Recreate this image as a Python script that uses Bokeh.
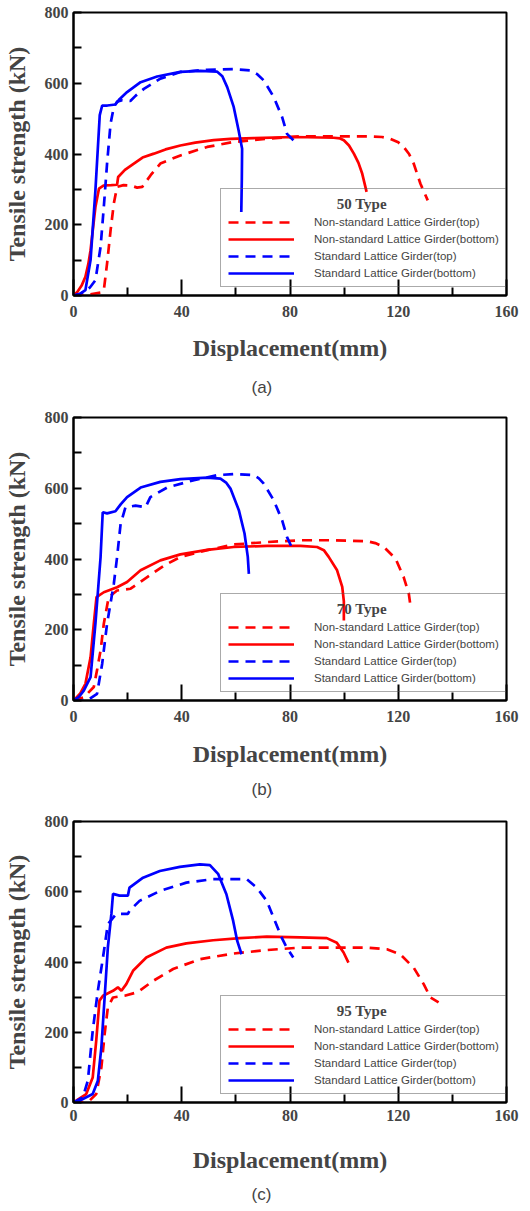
from bokeh.plotting import figure
from bokeh.layouts import column
from bokeh.models import Range1d, FixedTicker, Legend, LegendItem, Title
from bokeh.embed import file_html
from bokeh.resources import INLINE

# ---------------- data ----------------
labels = ["Non-standard Lattice Girder(top)", "Non-standard Lattice Girder(bottom)",
          "Standard Lattice Girder(top)", "Standard Lattice Girder(bottom)"]
x_ticks = [0, 40, 80, 120, 160]
x_minor = [20, 60, 100, 140]
y_ticks = [0, 200, 400, 600, 800]
y_minor = [100, 300, 500, 700]

# (a) 50 Type
a_ns_top_x = [0, 5, 10, 11.2, 12.4, 13.7, 14.9, 16.1, 18.5, 21.1, 23.5, 25.4, 28.5, 32.1, 39.5, 49.4, 59.2, 71.6, 83.9, 96.2, 108.5, 114, 117.1, 120, 122, 124, 125.7, 128.2, 130.9]
a_ns_top_y = [0, 2, 8, 15, 90, 184, 260, 307, 312, 311, 305, 307, 340, 373, 396, 420, 434, 443, 450, 450, 450, 448, 443, 433, 420, 400, 373, 316, 269]
a_ns_bot_x = [0, 1.4, 3, 4.4, 5.5, 6.3, 7.2, 8.1, 9.4, 11.2, 14, 16.1, 16.5, 19, 22.3, 25.5, 29.7, 34, 39.5, 45, 51.8, 58, 66.6, 81.4, 96.2, 98.5, 99.9, 101.8, 103.6, 105.3, 106.7, 108.3]
a_ns_bot_y = [0, 10, 28, 53, 90, 128, 190, 250, 302, 311, 312, 313, 335, 355, 373, 390, 401, 413, 424, 432, 439, 443, 445, 448, 446, 444, 439, 424, 401, 375, 344, 293]
a_st_top_x = [0, 2, 3.8, 6, 8.1, 10, 11.2, 12.4, 13.7, 14.9, 16.1, 18, 21, 23, 26, 32.1, 39.5, 49.4, 59.2, 65.4, 68, 70.3, 74, 77.1, 78.9, 82.6]
a_st_top_y = [0, 3, 10, 22, 43, 137, 250, 373, 486, 533, 548, 552, 550, 565, 584, 613, 632, 638, 640, 636, 625, 608, 561, 504, 457, 429]
a_st_bot_x = [0, 2.5, 4.4, 6.3, 8.1, 9.7, 10.6, 12.5, 15.5, 17, 19.8, 24.8, 30.9, 39.5, 46.9, 53, 55, 56.8, 59.2, 61, 62.3, 62.2, 62]
a_st_bot_y = [0, 5, 15, 100, 297, 510, 537, 537, 540, 555, 575, 603, 619, 632, 635, 633, 620, 589, 533, 467, 415, 330, 236]

# (b) 70 Type
b_ns_top_x = [0, 3.8, 7.5, 8.8, 10, 11.2, 13, 16.1, 21.1, 25.4, 33.4, 39.5, 49.4, 59.2, 71.6, 83.9, 96.2, 108.5, 111.5, 114.7, 119, 122, 123.9, 124.7]
b_ns_top_y = [0, 9, 38, 90, 141, 217, 292, 311, 316, 339, 381, 406, 425, 441, 448, 453, 453, 450, 445, 434, 401, 349, 302, 257]
b_ns_bot_x = [0, 0.7, 2.5, 4.4, 6.3, 7.5, 8.5, 11.2, 16.1, 19.8, 24.8, 32.1, 39.5, 49.4, 59.2, 71.6, 83.9, 90, 92.5, 94.3, 97.4, 99.3, 99.9, 99.9]
b_ns_bot_y = [0, 5, 20, 47, 122, 217, 292, 306, 320, 335, 368, 396, 413, 426, 434, 437, 437, 434, 425, 406, 368, 321, 280, 226]
b_st_top_x = [0, 3, 5, 8.7, 10.6, 12.4, 14.9, 16.1, 17.4, 19.2, 22.9, 26.6, 28.4, 34.6, 44.5, 53.1, 59.2, 66.6, 68.5, 70.3, 74, 77.1, 78.9, 81.4]
b_st_top_y = [0, 0, 0, 19, 104, 217, 330, 405, 499, 546, 551, 546, 575, 602, 623, 637, 640, 637, 628, 613, 566, 509, 462, 420]
b_st_bot_x = [0, 2, 3.8, 6.3, 8.1, 10, 10.8, 12.4, 15.5, 17.5, 19.8, 24.8, 32.1, 39.5, 49.4, 54.3, 56.5, 58, 61.1, 63.2, 64.4, 64.8]
b_st_bot_y = [0, 10, 28, 66, 217, 405, 532, 529, 535, 555, 575, 602, 618, 626, 630, 627, 615, 599, 538, 472, 406, 358]

# (c) 95 Type
c_ns_top_x = [0, 3, 5.9, 8.4, 10.3, 11.5, 12.7, 14.6, 18.9, 23.2, 24.4, 29.4, 36.8, 46.7, 59, 71.4, 83.7, 96, 108.4, 115.8, 120.7, 125.7, 129.4, 131.9, 134.9]
c_ns_top_y = [0, 0, 5, 24, 100, 195, 271, 299, 304, 313, 318, 346, 380, 408, 424, 434, 441, 441, 441, 436, 422, 384, 337, 299, 285]
c_ns_bot_x = [0, 1, 4.7, 7.1, 8.4, 9.6, 10.9, 14.6, 16.4, 17.7, 19.5, 22, 26.9, 34.3, 41.7, 51.6, 61.5, 71.4, 83.7, 93.6, 97.3, 99.8, 101.6]
c_ns_bot_y = [0, 5, 24, 71, 176, 290, 304, 318, 328, 318, 337, 375, 413, 441, 453, 462, 468, 472, 470, 468, 455, 427, 398]
c_st_top_x = [0, 3.4, 5.3, 7.1, 9, 10.9, 12.7, 15.8, 20.1, 20.7, 24.4, 31.9, 41.7, 51.6, 64, 67.7, 71.4, 74.4, 76.9, 78.8, 81.2]
c_st_top_y = [0, 14, 62, 204, 318, 413, 508, 537, 537, 546, 574, 602, 626, 636, 636, 612, 574, 517, 470, 441, 413]
c_st_bot_x = [0, 2.2, 7.1, 9, 10.3, 11.5, 12.7, 14, 14.6, 17, 20.1, 20.7, 25.7, 31.9, 39.3, 46.7, 50.4, 53.5, 56.5, 59, 60.5, 62.1]
c_st_bot_y = [0, 5, 24, 62, 157, 299, 442, 537, 594, 589, 589, 612, 640, 659, 671, 678, 676, 650, 593, 517, 460, 422]

colors = ["#ff0000", "#ff0000", "#0000ff", "#0000ff"]
dashes = ["10 7", "solid", "10 7", "solid"]

SERIF = "Liberation Serif"
SANS = "Liberation Sans"
NBSP = "\u00a0"


def make_panel(series, type_label, caption, height, frame_h, top,
               tick_standoff, label_standoff, cap_standoff):
    bottom = height - top - frame_h
    p = figure(width=522, height=height, x_range=Range1d(0, 160), y_range=Range1d(0, 800),
               output_backend="svg", toolbar_location=None,
               min_border_left=73, min_border_right=16, min_border_top=top,
               min_border_bottom=bottom)
    p.grid.visible = False
    p.outline_line_color = "black"
    p.outline_line_width = 2

    p.xaxis.ticker = FixedTicker(ticks=x_ticks, minor_ticks=x_minor)
    p.yaxis.ticker = FixedTicker(ticks=y_ticks, minor_ticks=y_minor)
    for ax in (p.xaxis[0], p.yaxis[0]):
        ax.axis_line_width = 2
        ax.axis_line_color = "black"
        ax.major_tick_line_width = 2
        ax.minor_tick_line_width = 2
        ax.major_tick_out = 0
        ax.minor_tick_out = 0
        ax.major_label_text_font = SERIF
        ax.major_label_text_font_style = "bold"
        ax.major_label_text_font_size = "16px"
        ax.axis_label_text_font = SERIF
        ax.axis_label_text_font_style = "bold"
        ax.axis_label_text_font_size = "24px"
    p.xaxis.major_tick_in = 16
    p.xaxis.minor_tick_in = 8
    p.yaxis.major_tick_in = 8
    p.yaxis.minor_tick_in = 8
    p.xaxis.major_label_standoff = tick_standoff
    p.yaxis.major_label_standoff = 5
    p.xaxis.axis_label = "Displacement(mm)"
    p.yaxis.axis_label = "Tensile strength (kN)"
    p.xaxis.axis_label_standoff = label_standoff
    p.yaxis.axis_label_standoff = 12

    items = []
    for (xs, ys), col, dash, lab in zip(series, colors, dashes, labels):
        r = p.line(xs, ys, line_color=col, line_width=2.7, line_dash=dash)
        items.append(LegendItem(label=lab, renderers=[r]))
    leg = Legend(items=items, location=(147, 8), title=NBSP * 29 + type_label,
                 padding=7, spacing=5, glyph_width=66, glyph_height=12,
                 label_height=12, label_standoff=20, margin=0,
                 label_text_font=SANS, label_text_font_size="11.5px",
                 title_text_font=SERIF, title_text_font_style="bold",
                 title_text_font_size="15px", title_standoff=3,
                 border_line_color="#555555", border_line_width=1,
                 background_fill_alpha=0)
    p.add_layout(leg)
    cap = Title(text=caption, align="left", offset=178, text_font=SANS,
                text_font_size="17px", text_font_style="normal", standoff=cap_standoff)
    p.add_layout(cap, "below")
    return p


pa = make_panel([(a_ns_top_x, a_ns_top_y), (a_ns_bot_x, a_ns_bot_y),
                 (a_st_top_x, a_st_top_y), (a_st_bot_x, a_st_bot_y)],
                "50 Type", "(a)", 409, 283, 12, 10, 15, 25)
pb = make_panel([(b_ns_top_x, b_ns_top_y), (b_ns_bot_x, b_ns_bot_y),
                 (b_st_top_x, b_st_top_y), (b_st_bot_x, b_st_bot_y)],
                "70 Type", "(b)", 397, 283, 8, 10, 16, 16)
pc = make_panel([(c_ns_top_x, c_ns_top_y), (c_ns_bot_x, c_ns_bot_y),
                 (c_st_top_x, c_st_top_y), (c_st_bot_x, c_st_bot_y)],
                "95 Type", "(c)", 405, 281, 15, 7, 23, 15)

layout = column(pa, pb, pc, spacing=0)
open("out.html", "w").write(file_html(layout, INLINE))
